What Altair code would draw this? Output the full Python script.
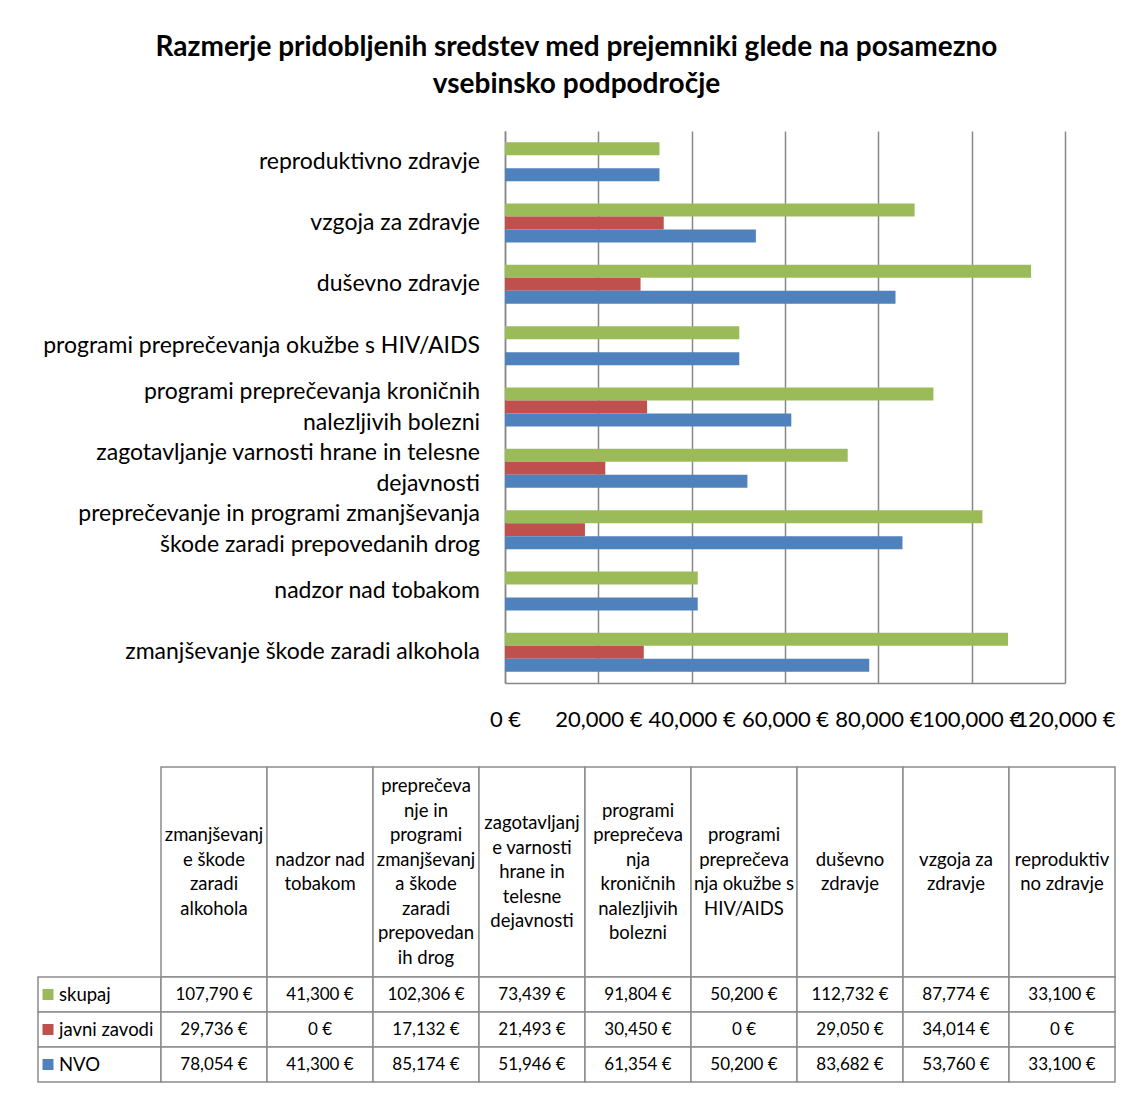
import altair as alt
import pandas as pd

# ---- data ----
categories = [
    "zmanjševanje škode zaradi alkohola",
    "nadzor nad tobakom",
    "preprečevanje in programi zmanjševanja škode zaradi prepovedanih drog",
    "zagotavljanje varnosti hrane in telesne dejavnosti",
    "programi preprečevanja kroničnih nalezljivih bolezni",
    "programi preprečevanja okužbe s HIV/AIDS",
    "duševno zdravje",
    "vzgoja za zdravje",
    "reproduktivno zdravje",
]
chart_labels = [
    "zmanjševanje škode zaradi alkohola",
    "nadzor nad tobakom",
    "preprečevanje in programi zmanjševanja\nškode zaradi prepovedanih drog",
    "zagotavljanje varnosti hrane in telesne\ndejavnosti",
    "programi preprečevanja kroničnih\nnalezljivih bolezni",
    "programi preprečevanja okužbe s HIV/AIDS",
    "duševno zdravje",
    "vzgoja za zdravje",
    "reproduktivno zdravje",
]
header_labels = [
    "zmanjševanj\ne škode\nzaradi\nalkohola",
    "nadzor nad\ntobakom",
    "preprečeva\nnje in\nprogrami\nzmanjševanj\na škode\nzaradi\nprepovedan\nih drog",
    "zagotavljanj\ne varnosti\nhrane in\ntelesne\ndejavnosti",
    "programi\npreprečeva\nnja\nkroničnih\nnalezljivih\nbolezni",
    "programi\npreprečeva\nnja okužbe s\nHIV/AIDS",
    "duševno\nzdravje",
    "vzgoja za\nzdravje",
    "reproduktiv\nno zdravje",
]
series = ["skupaj", "javni zavodi", "NVO"]
skupaj = [107790, 41300, 102306, 73439, 91804, 50200, 112732, 87774, 33100]
javni_zavodi = [29736, 0, 17132, 21493, 30450, 0, 29050, 34014, 0]
nvo = [78054, 41300, 85174, 51946, 61354, 50200, 83682, 53760, 33100]
colors = ["#9BBB59", "#C0504D", "#4F81BD"]
x_ticks = [0, 20000, 40000, 60000, 80000, 100000, 120000]
title_lines = ["Razmerje pridobljenih sredstev med prejemniki glede na posamezno",
               "vsebinsko podpodročje"]

FONT = "Lato"
GRID = "#878787"
LINE = "#8c8c8c"
LABEL_LH = 31
HEAD_LH = 24.5
ROW_PX = 35

series_values = [skupaj, javni_zavodi, nvo]
rows = []
for i, c in enumerate(categories):
    for s, vals in zip(series, series_values):
        rows.append({"kategorija": c, "serija": s, "vrednost": vals[i]})
df = pd.DataFrame(rows)

y_order = list(reversed(categories))
yscale = alt.Scale(domain=y_order, paddingInner=0.364, paddingOuter=0.182)

bars = alt.Chart(df).mark_bar().encode(
    x=alt.X("vrednost:Q",
            scale=alt.Scale(domain=[0, 120000], nice=False),
            axis=alt.Axis(values=x_ticks,
                          labelExpr="format(datum.value, ',') + ' €'",
                          title=None, grid=True, gridColor=GRID, gridWidth=1.5,
                          domainColor=GRID, domainWidth=1.5, ticks=False,
                          labelFontSize=22, labelFont=FONT, labelColor="black",
                          labelPadding=26, labelFlush=False, labelOverlap=False)),
    y=alt.Y("kategorija:N", sort=y_order, scale=yscale,
            axis=alt.Axis(labels=False, ticks=False, title=None, grid=False,
                          domainColor=GRID, domainWidth=1.5, minExtent=0)),
    yOffset=alt.YOffset("serija:N", sort=series),
    color=alt.Color("serija:N", scale=alt.Scale(domain=series, range=colors), legend=None),
).properties(width=560, height=552)

labels_df = pd.DataFrame({"kategorija": categories, "oznaka": chart_labels})
lab_base = alt.Chart(labels_df).transform_calculate(
    nl="split(datum.oznaka, '\\n').length"
)
lab_enc = dict(
    y=alt.Y("kategorija:N", sort=y_order, scale=yscale, axis=None),
    x=alt.value(442),
    text="oznaka:N",
)
lab_one = lab_base.transform_filter("datum.nl == 1").mark_text(
    align="right", baseline="middle", fontSize=23, font=FONT, color="black"
).encode(**lab_enc)
lab_two = lab_base.transform_filter("datum.nl == 2").mark_text(
    align="right", baseline="middle", fontSize=23, font=FONT, color="black",
    lineBreak="\n", lineHeight=LABEL_LH, dy=-LABEL_LH / 2
).encode(**lab_enc)
label_chart = alt.layer(lab_one, lab_two).properties(width=442, height=552)

top_row = alt.hconcat(label_chart, bars, spacing=25, bounds="flush")

# ---- table ----
cells = []
for i, c in enumerate(categories):
    cells.append({"kategorija": c, "y0": 0, "y1": 6, "yc": 3, "tekst": header_labels[i]})
    for r, (s, vals) in enumerate(zip(series, series_values)):
        cells.append({"kategorija": c, "y0": 6 + r, "y1": 7 + r, "yc": 6.5 + r,
                      "vrednost": vals[i], "tekst": None})
cells_df = pd.DataFrame(cells)

ty = alt.Scale(domain=[0, 9], reverse=True, nice=False, zero=False)

tbase = alt.Chart(cells_df).encode(
    x=alt.X("kategorija:N", sort=categories,
            scale=alt.Scale(paddingInner=0, paddingOuter=0), axis=None)
)
t_rect = tbase.mark_rect(fill="white", stroke=LINE, strokeWidth=1.5).encode(
    y=alt.Y("y0:Q", scale=ty, axis=None), y2="y1:Q")
t_head = tbase.transform_filter("datum.y0 == 0").transform_calculate(
    ytop=f"datum.yc - (split(datum.tekst, '\\n').length - 1) * {HEAD_LH / ROW_PX / 2}"
).mark_text(
    fontSize=18.5, font=FONT, lineBreak="\n", lineHeight=HEAD_LH, baseline="middle", color="black"
).encode(y=alt.Y("ytop:Q", scale=ty, axis=None), text="tekst:N")
t_vals = tbase.transform_filter("datum.y0 > 0").transform_calculate(
    lab="format(datum.vrednost, ',') + ' €'"
).mark_text(fontSize=17, font=FONT, baseline="middle", color="black").encode(
    y=alt.Y("yc:Q", scale=ty, axis=None), text="lab:N")
data_chart = alt.layer(t_rect, t_head, t_vals).properties(width=954, height=315)

leg_df = pd.DataFrame({"serija": series, "y0": [6, 7, 8], "y1": [7, 8, 9], "yc": [6.5, 7.5, 8.5]})
lbase = alt.Chart(leg_df)
l_rect = lbase.mark_rect(fill="white", stroke=LINE, strokeWidth=1.5).encode(
    y=alt.Y("y0:Q", scale=ty, axis=None), y2="y1:Q")
l_sq = lbase.mark_square(size=121, opacity=1).encode(
    y=alt.Y("yc:Q", scale=ty, axis=None), x=alt.value(10),
    color=alt.Color("serija:N", scale=alt.Scale(domain=series, range=colors), legend=None))
l_txt = lbase.mark_text(align="left", baseline="middle", fontSize=18.5, font=FONT, color="black").encode(
    y=alt.Y("yc:Q", scale=ty, axis=None), x=alt.value(21), text="serija:N")
legend_chart = alt.layer(l_rect, l_sq, l_txt).properties(width=123, height=315)

table = alt.hconcat(legend_chart, data_chart, spacing=0, bounds="flush")

chart = alt.vconcat(
    top_row, table, spacing=36,
    title=alt.Title(title_lines, fontSize=28, font=FONT, fontWeight="bold",
                    anchor="middle", lineHeight=37, offset=32, color="black"),
).properties(
    padding={"left": 29, "top": 26, "right": 5, "bottom": 5}
).configure_view(stroke=None)

chart.save("out.html", embed_options={"renderer": "svg", "actions": False})
